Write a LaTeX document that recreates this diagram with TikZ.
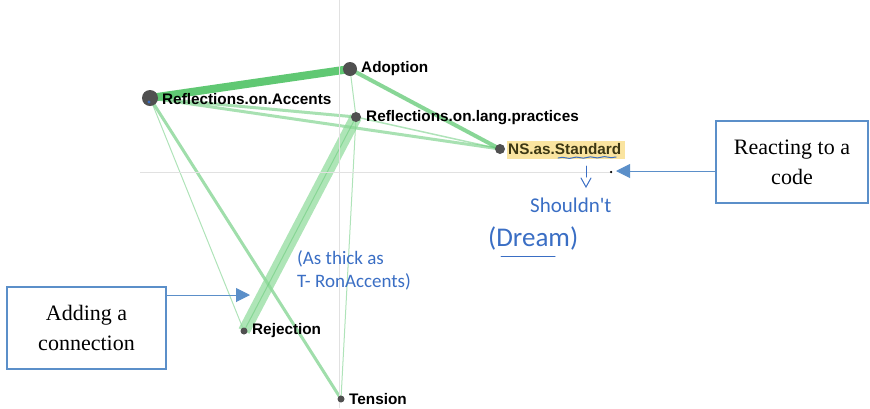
\documentclass[tikz,border=0pt]{standalone}
\usepackage{fontspec}
\setmainfont{Liberation Serif}
\newfontfamily\lblfont{Liberation Sans}
\newfontfamily\handfont{Carlito}
\usetikzlibrary{arrows.meta,backgrounds,decorations.pathmorphing}

\definecolor{edgegreen}{RGB}{96,200,115}
\definecolor{bandgreen}{RGB}{140,218,152}
\definecolor{dotgray}{RGB}{80,80,80}
\definecolor{axisgray}{RGB}{225,225,225}
\definecolor{boxblue}{RGB}{91,143,201}
\definecolor{inkblue}{RGB}{58,110,196}
\definecolor{hilite}{RGB}{250,228,160}
\definecolor{hltext}{RGB}{60,55,20}

\tikzset{
  vertex/.style={circle,fill=dotgray,inner sep=0pt,minimum size=#1},
  vlabel/.style={anchor=west,inner sep=0pt,font=\lblfont\bfseries\fontsize{15.3}{15}\selectfont},
  link/.style={draw=edgegreen,line width=#1},
  callout/.style={draw=boxblue,line width=2.2pt,fill=white,align=center,
    font=\fontsize{22}{30}\selectfont,inner sep=0pt},
  pointer/.style={draw=boxblue,line width=1pt,-{Triangle[length=14pt,width=14pt]},fill=boxblue},
  ink/.style={text=inkblue,font=\handfont\fontsize{19}{23}\selectfont,anchor=west,inner sep=0pt,align=left},
  inkline/.style={draw=inkblue,line width=1pt,line cap=round}
}

\begin{document}
\begin{tikzpicture}[x=1pt,y=-1pt]
\useasboundingbox (0,0) rectangle (870,408);

% plot axes
\draw[axisgray,line width=1pt] (339,0) -- (339,408);
\draw[axisgray,line width=1pt] (140,172) -- (612,172);

% code vertices
\node[vertex=16pt] (acc) at (150,98) {};
\node[vertex=14pt] (adop) at (350,69) {};
\node[vertex=10pt] (lang) at (356,117) {};
\node[vertex=10pt] (ns) at (500,149) {};
\node[vertex=7pt] (rej) at (244,331) {};
\node[vertex=7pt] (ten) at (341,399) {};
\fill[inkblue] (149,102) circle (1.6pt);

% co-occurrence edges
\begin{scope}[on background layer]
  \draw[link=8pt] (acc.center) -- (adop.center);
  \draw[link=4pt,opacity=0.75] (adop.center) -- (ns.center);
  \draw[link=3pt,opacity=0.55] (acc.center) -- (lang.center);
  \draw[link=3pt,opacity=0.55] (acc.center) -- (ns.center);
  \draw[link=1.5pt,opacity=0.5] (lang.center) -- (ns.center);
  \draw[link=1pt,opacity=0.5] (adop.center) -- (lang.center);
  \draw[link=1pt,opacity=0.5] (lang.center) -- (ten.center);
  \draw[link=1pt,opacity=0.5] (acc.center) -- (rej.center);
  \draw[link=3pt,opacity=0.6] (acc.center) -- (ten.center);
  \draw[draw=bandgreen,line width=12pt,opacity=0.7] (lang.center) -- (rej.center);
  \draw[link=1pt,opacity=0.5] (lang.center) -- (rej.center);
  % highlight behind the code name
  \fill[hilite] (507,141) rectangle (625,159);
\end{scope}

% vertex labels
\node[vlabel] (laccL) at (162,99) {Reflections.on.Accents};
\node[vlabel] (ladopL) at (361,69) {Adoption};
\node[vlabel] (llangL) at (366,118) {Reflections.on.lang.practices};
\node[vlabel,text=hltext] (lnsL) at (508,149) {NS.as.Standard};
\node[vlabel] (lrejL) at (252,331) {Rejection};
\node[vlabel] (ltenL) at (349,399) {Tension};

% callout boxes with pointers
\node[callout,minimum width=159pt,minimum height=82pt] (addbox) at (86.5,328) {Adding a\\connection};
\coordinate (addtip) at (250,295);
\draw[pointer] (addbox.east |- addtip) -- (addtip);

\node[callout,minimum width=152pt,minimum height=82pt] (reactbox) at (792,162) {Reacting to a\\code};
\coordinate (reacttip) at (616,171);
\node[circle,fill=black,inner sep=0pt,minimum size=2.5pt] (mark) at (611,172) {};
\draw[pointer] (reactbox.west |- reacttip) -- (reacttip);

% handwritten notes
\draw[inkline,decorate,decoration={snake,amplitude=0.6pt,segment length=14pt}] (558,158) -- (616,157);
\coordinate (inkA) at (586,166);
\coordinate (inkB) at (586,177);
\draw[inkline] (inkA) -- (inkB);
\draw[inkline] (581,178) -- (586,187) -- (591,178);
\node[ink,font=\handfont\fontsize{21}{23}\selectfont] (noteA) at (530,205) {Shouldn't};
\node[ink,font=\handfont\fontsize{27}{28}\selectfont] (noteB) at (488,238) {(Dream)};
\coordinate (ulA) at (501,256);
\coordinate (ulB) at (555,256);
\draw[inkline] (ulA) -- (ulB);
\node[ink] (noteC) at (297,270) {(As thick as\\T- RonAccents)};
\end{tikzpicture}
\end{document}
